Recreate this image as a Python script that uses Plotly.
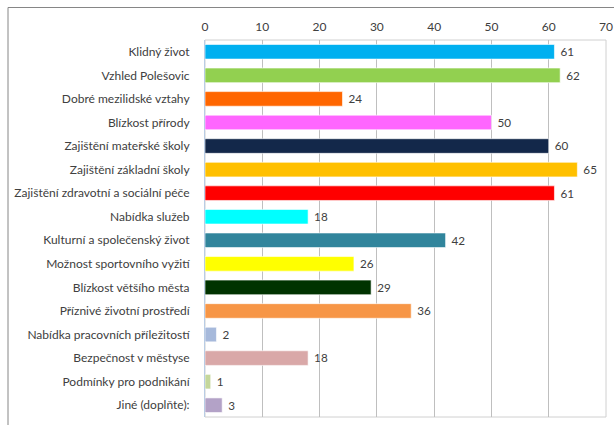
import plotly.graph_objects as go

categories = [
    "Klidný život",
    "Vzhled Polešovic",
    "Dobré mezilidské vztahy",
    "Blízkost přírody",
    "Zajištění mateřské školy",
    "Zajištění základní školy",
    "Zajištění zdravotní a sociální péče",
    "Nabídka služeb",
    "Kulturní a společenský život",
    "Možnost sportovního vyžití",
    "Blízkost většího města",
    "Příznivé životní prostředí",
    "Nabídka pracovních příležitostí",
    "Bezpečnost v městyse",
    "Podmínky pro podnikání",
    "Jiné (doplňte):",
]
values = [61, 62, 24, 50, 60, 65, 61, 18, 42, 26, 29, 36, 2, 18, 1, 3]
colors = [
    "#00B0F0", "#92D050", "#FF6600", "#FF66FF", "#13284A", "#FFC000",
    "#FF0000", "#00FFFF", "#31859C", "#FFFF00", "#003300", "#F79646",
    "#A6B9DB", "#D9A8A8", "#C4D79B", "#B3A2C7",
]
x_ticks = [0, 10, 20, 30, 40, 50, 60, 70]

font_family = "Lato, Open Sans, sans-serif"
text_color = "#404040"

fig = go.Figure(
    go.Bar(
        y=categories,
        x=values,
        orientation="h",
        marker=dict(color=colors, line=dict(color="rgba(255,255,255,0.6)", width=1)),
        width=0.62,
        text=[f" {v}" for v in values],
        textposition="outside",
        cliponaxis=False,
        textfont=dict(family=font_family, size=12, color=text_color),
        hoverinfo="skip",
    )
)

W, H = 614, 425
L, R, T, B = 205, 8, 40, 8
pw, ph = W - L - R, H - T - B

fig.update_layout(
    width=W,
    height=H,
    margin=dict(l=L, r=R, t=T, b=B, autoexpand=False),
    paper_bgcolor="white",
    plot_bgcolor="white",
    showlegend=False,
    font=dict(family=font_family, size=12, color=text_color),
    xaxis=dict(
        side="top",
        range=[0, 70],
        tickvals=x_ticks,
        showgrid=True,
        gridcolor="#BFBFBF",
        gridwidth=1,
        zeroline=False,
        showline=False,
        ticks="",
        automargin=False,
        ticklabelstandoff=6,
        ticklabeloverflow="allow",
        tickfont=dict(family=font_family, size=12, color=text_color),
    ),
    yaxis=dict(
        autorange="reversed",
        showgrid=False,
        zeroline=False,
        showline=True,
        linecolor="#B9CDE5",
        linewidth=1,
        ticks="",
        automargin=False,
        ticklabelstandoff=12,
        tickfont=dict(family=font_family, size=12, color=text_color),
    ),
    shapes=[
        dict(type="rect", xref="paper", yref="paper", x0=0, x1=1, y0=0, y1=1,
             line=dict(color="#D0D0D0", width=1), layer="below"),
        dict(type="line", xref="paper", yref="paper",
             x0=-(L - 8) / pw, x1=1 + R / pw, y0=1 + (T - 7.5) / ph, y1=1 + (T - 7.5) / ph,
             line=dict(color="#868686", width=1)),
        dict(type="line", xref="paper", yref="paper",
             x0=-(L - 8) / pw, x1=-(L - 8) / pw, y0=-B / ph, y1=1 + (T - 7.5) / ph,
             line=dict(color="#868686", width=1)),
    ],
)

fig.write_html(
    "out.html",
    config={"displayModeBar": False},
    post_script="document.body.style.margin='0';document.body.style.overflow='hidden';",
)
